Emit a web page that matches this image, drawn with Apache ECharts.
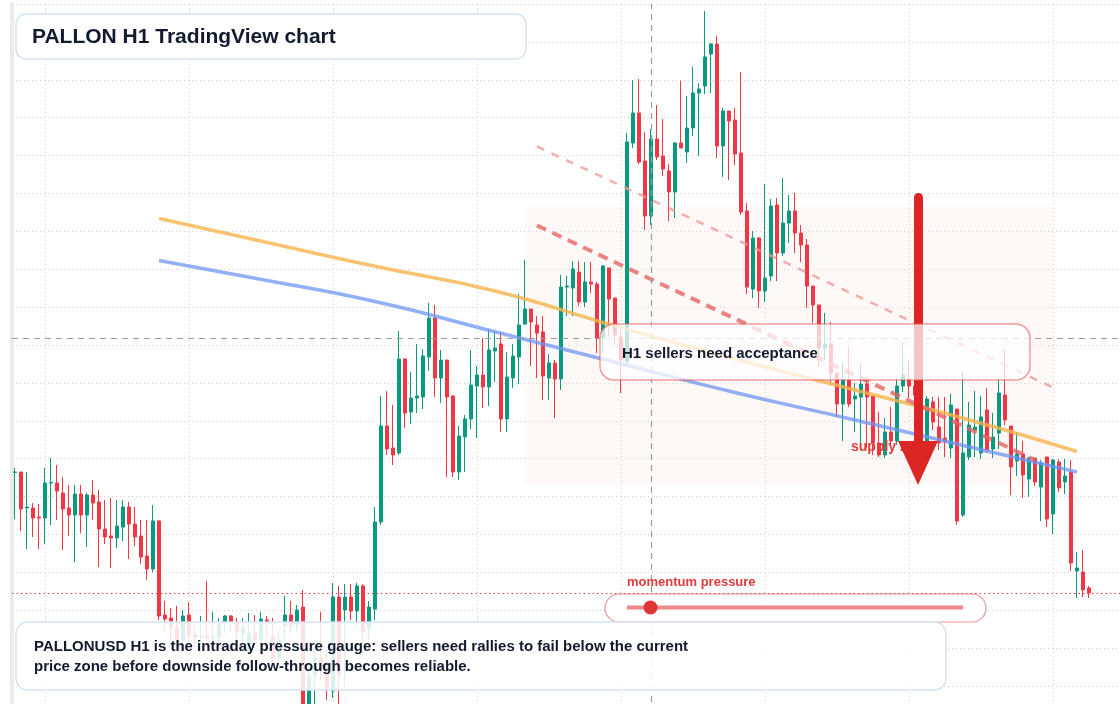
<!DOCTYPE html>
<html><head><meta charset="utf-8">
<script src="https://cdn.jsdelivr.net/npm/echarts@6/dist/echarts.min.js"></script>
<style>html,body{margin:0;padding:0;background:#fff}#c{width:1120px;height:704px}</style>
</head><body><div id="c"></div>
<script>
// H1 candles (price units of the chart's vertical scale)
const opens = [
251.5,252,216,216,207,206,241,241,231,216,
209,230,209,229,222,195,188,186,197,217,
200,188,168,155,203,109,106,97,84,109,
90,87,88,86,87,102,108,102,91,74,
91,84,104,88,66,98,109,99,117,14,
49,66,62,33,127,114,127,113,138,96,
115,202,298,276,271,365,312,326,327,367,
406,346,364,328,252,287,305,338,349,337,
373,380,305,346,367,400,415,399,392,346,
361,345,437,436,452,422,442,440,386,456,
426,387,362,581,611,563,508,585,568,553,
532,581,572,596,631,638,670,680,578,613,
604,571,513,435,486,433,448,519,471,501,
513,491,479,438,419,376,380,351,320,344,
325,327,340,328,281,269,292,283,338,345,
338,329,283,322,297,286,276,315,209,267,
294,271,314,275,291,329,298,263,270,245,
266,237,267,210,262,242,252,153,152,136];
const closes = [
252,215,217,206,206,241,241.5,233,215,209,
230,209,229,221,195,187,186,198,217,200,
187,167,155,203,108,105,96,84,108,89,
87,88,86,87,100,108,102,92,96,91,
84,105,101,66,84,109,98,114,16,48,
66,56,36,127,49,127,113,138,92,117,
202,298,275,269,365,311,326,328,368,406,
346,364,327,252,288,305,339,349,337,374,
376,305,347,368,399,415,402,391,348,361,
345,437,438,455,422,442,440,386,458,425,
389,364,582,611,562,508,585,567,555,532,
581,576,596,631,635,667,680,578,613,603,
570,512,437,486,433,446,518,471,501,513,
491,479,438,419,376,380,351,320,344,320,
328,340,327,281,269,292,283,338,349,338,
329,284,325,302,281,282,319,203,271,299,
297,307,274,287,331,304,257,270,249,266,
242,261,205,264,236,248,161,156,134,131];
const lows = [
205,193,175,187,175,180,199,204,174,188,
162,191,177,204,157,180,156,176,183,165,
178,160,144,152,104,92,84,74,79,82,
76,79,78,74,82,90,92,84,79,69,
76,79,84,62,59,84,92,92,9,8,
20,44,24,26,18,37,104,97,79,84,
104,199,269,259,269,296,300,311,315,353,
327,321,247,247,244,252,295,286,316,318,
342,292,292,336,340,399,358,346,324,324,
306,334,408,408,418,417,431,371,371,387,
379,331,362,576,560,494,499,564,548,503,
506,576,561,588,568,630,631,566,547,544,
559,509,430,426,416,422,443,443,468,481,
471,462,416,401,357,364,339,307,283,317,
292,281,276,269,267,266,279,279,332,326,
314,276,276,294,274,267,266,199,207,264,
267,265,271,266,275,299,229,248,226,227,
238,203,197,190,232,230,153,126,127,126];
const highs = [
256,252,252,221,220,256,266,259,247,239,
239,239,231,244,234,224,226,224,224,222,
217,204,204,219,204,123,116,118,114,122,
97,108,143,112,106,109,109,106,106,111,
109,112,108,106,94,128,123,119,134,60,
84,112,74,141,138,140,140,141,140,123,
217,328,333,319,393,366,352,380,375,421,
419,374,364,329,298,309,374,358,386,395,
393,392,372,380,430,464,415,408,408,370,
364,449,448,463,463,462,462,442,459,456,
426,394,591,644,645,592,595,619,605,560,
582,643,628,657,641,713,681,688,616,613,
616,652,521,493,487,540,525,526,546,529,
531,499,485,438,419,411,402,351,362,377,
341,361,347,328,312,306,317,346,382,364,
352,334,328,327,327,327,330,315,352,322,
333,328,336,311,345,374,298,292,283,267,
266,264,267,265,265,265,264,172,174,138];

// Moving-average style curves, read at candle indices
const maIdx = [24, 40, 60, 80, 100, 120, 140, 160, 177];
const orangeVals = [505.5, 484.3, 457.7, 433, 398, 365, 334, 302.5, 272.5];
const blueVals = [463.5, 445.7, 422.5, 392.2, 361.8, 331.5, 304, 275.8, 252];
// Descending channel lines [index, value]
const channelUpper = [[87, 577.5], [173, 336.5]];
const channelLower = [[87, 498.5], [170, 264]];
// Supply zone box [index, value] corners
const zoneCorners = [[85, 517], [173, 240]];
// Arrow [candle position, value] start / end
const arrowPts = [[150.5, 526.5], [150.5, 261]];
const crossIndex = 106, crossValue = 386;
const momentumValue = 7;
const gaugeTrack = [0, 100];

const N_CAT = 186;
const categories = [];
for (let i = 0; i < N_CAT; i++) {
  const d = new Date(Date.UTC(2024, 4, 6, 0) + i * 3600000);
  categories.push(d.toISOString().slice(5, 13).replace('T', ' ') + ':00');
}
const candleData = opens.map((o, i) => [o, closes[i], lows[i], highs[i]]);
const orangeData = maIdx.map((x, k) => [x, orangeVals[k]]);
const blueData = maIdx.map((x, k) => [x, blueVals[k]]);
const lastClose = closes[closes.length - 1];

const FONT = '"Liberation Sans", Arial, sans-serif';
const chart = echarts.init(document.getElementById('c'), null, {renderer: 'canvas'});
chart.setOption({
  animation: false,
  backgroundColor: '#ffffff',
  grid: [
    {left: 12, width: 1116, top: 4, height: 720, outerBoundsMode: 'none', containLabel: false},
    {left: 627, width: 336, top: 600, height: 15, outerBoundsMode: 'none'}
  ],
  xAxis: [
    {type: 'category', data: categories, boundaryGap: true,
     axisLine: {show: false}, axisTick: {show: false}, axisLabel: {show: false},
     splitLine: {show: true, alignWithLabel: true, interval: (i) => i % 24 === 5,
       lineStyle: {color: '#cfcfcf', type: [1, 3], width: 1}}},
    {type: 'value', gridIndex: 1, min: 0, max: 100, show: false},
    // continuous candle-position axis on the main grid (same bands as the category axis)
    {type: 'value', gridIndex: 0, min: -0.5, max: N_CAT - 0.5, show: false}
  ],
  yAxis: [
    {type: 'value', min: 0, max: 720, interval: 720 / 19,
     axisLabel: {show: false}, axisTick: {show: false},
     axisLine: {show: true, onZero: false, lineStyle: {color: '#ebebeb', width: 4}},
     splitLine: {show: true, lineStyle: {color: '#cfcfcf', type: [1, 3], width: 1}}},
    {type: 'value', gridIndex: 1, min: 0, max: 1, show: false}
  ],
  series: [
    {type: 'line', data: [], z: 1, silent: true,
     markArea: {silent: true, itemStyle: {color: 'rgba(248,214,198,0.16)', borderRadius: 16},
       data: [[{coord: zoneCorners[0]}, {coord: zoneCorners[1]}]]},
     markLine: {silent: true, symbol: ['none', 'none'], label: {show: false},
       lineStyle: {color: '#9c9c9c', type: [6, 5], width: 1.2},
       data: [{xAxis: crossIndex}, {yAxis: crossValue}]}},
    {type: 'candlestick', data: candleData, z: 2, barWidth: 4,
     itemStyle: {color: '#089981', color0: '#f23645', borderColor: '#089981', borderColor0: '#f23645', borderWidth: 1},
     markLine: {silent: true, symbol: ['none', 'none'], label: {show: false},
       lineStyle: {color: '#e23b3b', type: [1.5, 3], width: 1.2},
       data: [{yAxis: lastClose}]}},
    {type: 'line', data: orangeData, smooth: true, symbol: 'none', z: 3, silent: true,
     lineStyle: {color: '#f6b34c', width: 3.5, opacity: 0.8}},
    {type: 'line', data: blueData, smooth: true, symbol: 'none', z: 3, silent: true,
     lineStyle: {color: '#6e95f2', width: 3.5, opacity: 0.75}},
    {type: 'line', data: channelUpper, symbol: 'none', z: 3, silent: true,
     lineStyle: {color: '#f09a9a', width: 2.5, type: [8, 8], opacity: 0.8}},
    {type: 'line', data: channelLower, symbol: 'none', z: 3, silent: true,
     lineStyle: {color: '#e46464', width: 4, type: [10, 7], opacity: 0.8}},
    {type: 'line', xAxisIndex: 2, yAxisIndex: 0, data: [], z: 5, silent: true,
     markLine: {silent: true, symbol: ['none', 'triangle'], symbolSize: [40, 44], label: {show: false},
       lineStyle: {color: '#dc2626', width: 9, type: 'solid', cap: 'round', opacity: 1},
       data: [[{coord: arrowPts[0]}, {coord: arrowPts[1]}]]}},
    {type: 'line', xAxisIndex: 1, yAxisIndex: 1, data: gaugeTrack.map(v => [v, 0.5]), symbol: 'none', z: 102, silent: true,
     lineStyle: {color: '#f08a8a', width: 4}},
    {type: 'scatter', xAxisIndex: 1, yAxisIndex: 1, data: [[momentumValue, 0.5]], symbolSize: 14, z: 103, silent: true,
     itemStyle: {color: '#e03535', opacity: 1}}
  ],
  graphic: [
    {type: 'text', x: 851, y: 447, z: 4, silent: true,
     style: {text: 'supply zone', fill: '#e23b3b', font: 'bold 14px ' + FONT, align: 'left', verticalAlign: 'middle'}},
    {type: 'rect', z: 100, silent: true, shape: {x: 16, y: 14, width: 510, height: 45, r: 10},
     style: {fill: '#ffffff', stroke: '#d6e3f5', lineWidth: 1.5}},
    {type: 'text', x: 32, y: 37, z: 101, silent: true,
     style: {text: 'PALLON H1 TradingView chart', fill: '#111a2e', font: 'bold 21px ' + FONT, align: 'left', verticalAlign: 'middle'}},
    {type: 'rect', z: 100, silent: true, shape: {x: 600, y: 324, width: 430, height: 56, r: 14},
     style: {fill: 'rgba(255,255,255,0.74)', stroke: 'rgba(226,80,80,0.55)', lineWidth: 1.5}},
    {type: 'text', x: 622, y: 354, z: 101, silent: true,
     style: {text: 'H1 sellers need acceptance', fill: '#111a2e', font: 'bold 15px ' + FONT, align: 'left', verticalAlign: 'middle'}},
    {type: 'text', x: 627, y: 582, z: 101, silent: true,
     style: {text: 'momentum pressure', fill: '#e03a3a', font: 'bold 13px ' + FONT, align: 'left', verticalAlign: 'middle'}},
    {type: 'rect', z: 100, silent: true, shape: {x: 605, y: 594, width: 381, height: 28, r: 14},
     style: {fill: 'rgba(255,255,255,0.9)', stroke: 'rgba(226,80,80,0.6)', lineWidth: 1.2}},
    {type: 'rect', z: 100, silent: true, shape: {x: 16, y: 622, width: 930, height: 68, r: 12},
     style: {fill: 'rgba(255,255,255,0.86)', stroke: '#d6e3f5', lineWidth: 1.5}},
    {type: 'text', x: 34, y: 647, z: 101, silent: true,
     style: {text: 'PALLONUSD H1 is the intraday pressure gauge: sellers need rallies to fail below the current', fill: '#111a2e', font: 'bold 15px ' + FONT, align: 'left', verticalAlign: 'middle'}},
    {type: 'text', x: 34, y: 667, z: 101, silent: true,
     style: {text: 'price zone before downside follow-through becomes reliable.', fill: '#111a2e', font: 'bold 15px ' + FONT, align: 'left', verticalAlign: 'middle'}}
  ]
});
</script>
</body></html>
